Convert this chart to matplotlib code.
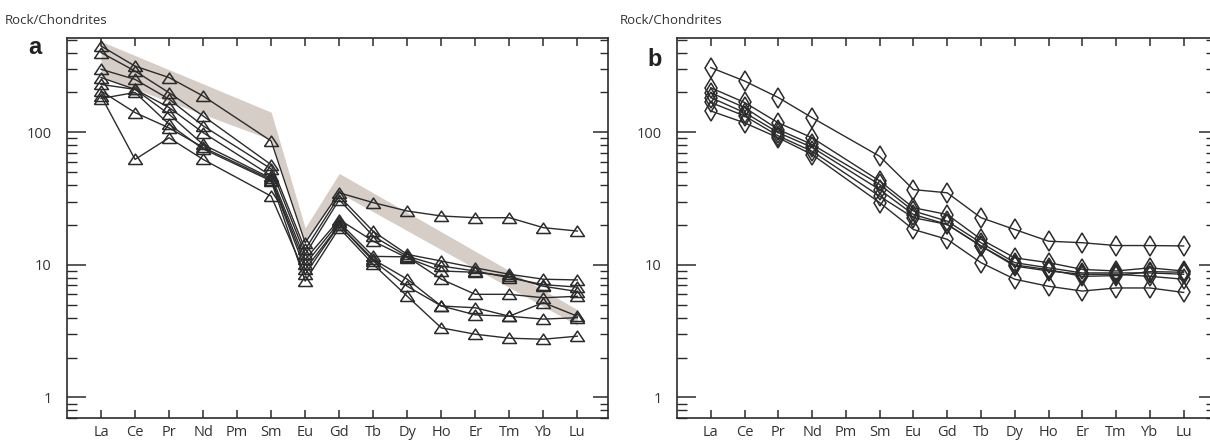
import matplotlib
matplotlib.use("Agg")
import matplotlib.pyplot as plt
import numpy as np
from matplotlib.ticker import FixedLocator, FixedFormatter, LogLocator, NullFormatter

plt.rcParams['font.family'] = ['Open Sans', 'DejaVu Sans']

# ---------------- data ----------------
ree = ['La', 'Ce', 'Pr', 'Nd', 'Pm', 'Sm', 'Eu', 'Gd', 'Tb', 'Dy', 'Ho', 'Er', 'Tm', 'Yb', 'Lu']

# panel a samples (None = Pm not analysed)
a_s1 = [448, 316, 259, 188, None, 86, 14.7, 35, 29.5, 25.5, 23.4, 22.7, 22.7, 19.1, 18.0]
a_s2 = [400, 290, 199, 133, None, 57, 13.1, 33, 17.9, 12.0, 10.7, 9.5, 8.5, 7.8, 7.7]
a_s3 = [299, 251, 178, 112, None, 53, 12.0, 31, 16.5, 11.6, 9.8, 9.0, 8.0, 7.1, 6.8]
a_s4 = [259, 211, 154, 99.5, None, 47, 11.0, 22, 15.1, 11.3, 9.0, 8.8, 8.2, 6.9, 6.3]
a_s5 = [230, 211, 137, 81, None, 45, 10.1, 21, 11.6, 11.5, 7.8, 6.0, 6.0, 5.65, 5.8]
a_s6 = [205, 141, 108, 77, None, 44, 9.25, 20, 11.0, 7.8, 4.9, 4.75, 4.1, 5.2, 4.1]
a_s7 = [188, 62.5, 91, 62.5, None, 33, 8.5, 20, 10.7, 6.9, 4.9, 4.2, 4.1, 3.9, 4.0]
a_s8 = [180, 200, 115, 75, None, 43, 7.55, 19, 10.1, 5.8, 3.35, 3.0, 2.8, 2.75, 2.9]
panel_a = [a_s1, a_s2, a_s3, a_s4, a_s5, a_s6, a_s7, a_s8]

# shaded reference field in panel a
band_ree = ['La', 'Sm', 'Eu', 'Gd', 'Lu']
band_upper = [486, 142, 19, 49, 4.6]
band_lower = [265, 88, 15, 35, 3.5]

# panel b samples
b_s1 = [308, 244, 183, 129, None, 66, 37, 35, 22.7, 18.5, 15.1, 14.7, 14.0, 14.0, 13.9]
b_s2 = [217, 168, 118, 91, None, 43, 27, 24, 15.6, 11.3, 10.4, 9.25, 9.0, 9.5, 9.0]
b_s3 = [199, 154, 105, 81, None, 40.5, 25.5, 21.4, 14.7, 10.4, 9.5, 8.7, 8.7, 8.7, 8.5]
b_s4 = [183, 141, 99.5, 77, None, 37, 24, 20.2, 13.9, 9.8, 9.0, 8.5, 8.5, 8.2, 7.8]
b_s5 = [168, 133, 94, 72, None, 33, 22.7, 20.2, 13.9, 10.0, 9.2, 8.2, 8.3, 8.9, 8.8]
b_s6 = [145, 118, 91, 68, None, 29.5, 18.5, 15.6, 10.4, 7.8, 6.9, 6.35, 6.7, 6.7, 6.2]
panel_b = [b_s1, b_s2, b_s3, b_s4, b_s5, b_s6]

y_major = [1, 10, 100]
y_major_labels = ['1', '10', '100']

# ---------------- figure ----------------
fig = plt.figure(figsize=(12.1, 4.41), dpi=100)
W, H = 1210, 441
ink = '#2b2b2b'
txt = '#333333'

def make_axes(left_px, right_px):
    ax = fig.add_axes([left_px / W, 23 / H, (right_px - left_px) / W, (418 - 38) / H])
    ax.set_yscale('log')
    ax.set_xlim(-1, 14.9)
    ax.set_ylim(0.7, 515)
    ax.set_xticks(range(len(ree)))
    ax.set_xticklabels(ree)
    ax.yaxis.set_major_locator(FixedLocator(y_major))
    ax.yaxis.set_major_formatter(FixedFormatter(y_major_labels))
    ax.yaxis.set_minor_locator(LogLocator(base=10, subs=np.arange(2, 10), numticks=20))
    ax.yaxis.set_minor_formatter(NullFormatter())
    for s in ax.spines.values():
        s.set_linewidth(1.2)
        s.set_color(ink)
    ax.tick_params(axis='x', which='major', direction='in', length=6, width=1.1,
                   top=True, bottom=True, pad=5, labelsize=10.5, colors=ink, labelcolor=txt)
    ax.tick_params(axis='x', which='minor', bottom=False, top=False)
    ax.tick_params(axis='y', which='major', direction='in', length=14, width=1.1,
                   left=True, right=False, pad=11, labelsize=10.5, colors=ink, labelcolor=txt)
    ax.tick_params(axis='y', which='minor', direction='in', length=7, width=1.0,
                   left=True, right=False, colors=ink)
    # right-hand ticks with their own lengths
    ax2 = ax.twinx()
    ax2.set_yscale('log')
    ax2.set_ylim(ax.get_ylim())
    ax2.yaxis.set_major_locator(FixedLocator(y_major))
    ax2.yaxis.set_minor_locator(LogLocator(base=10, subs=np.arange(2, 10), numticks=20))
    ax2.yaxis.set_major_formatter(NullFormatter())
    ax2.yaxis.set_minor_formatter(NullFormatter())
    ax2.tick_params(axis='y', which='major', direction='in', length=11, width=1.1, colors=ink)
    ax2.tick_params(axis='y', which='minor', direction='in', length=6, width=1.0, colors=ink)
    for s in ax2.spines.values():
        s.set_visible(False)
    return ax

def draw_series(ax, series, marker, ms):
    xs_all = np.arange(len(ree))
    for vals in series:
        xs = [x for x, v in zip(xs_all, vals) if v is not None]
        ys = [v for v in vals if v is not None]
        ax.plot(xs, ys, color=ink, lw=1.0, marker=marker, ms=ms,
                mfc='none', mec=ink, mew=1.1, zorder=3)

tri = [(-1, -0.72), (1, -0.72), (0, 0.78), (-1, -0.72)]

axa = make_axes(67, 608)
bx = [ree.index(r) for r in band_ree]
axa.fill_between(bx, band_lower, band_upper, color='#d5cdc6', lw=0, zorder=1)
draw_series(axa, panel_a, tri, 10)

axb = make_axes(677, 1214)
draw_series(axb, panel_b, 'd', 10.5)

fig.text(5 / W, 1 - 20 / H, 'Rock/Chondrites', fontsize=9.5, color=txt, ha='left', va='center')
fig.text(620 / W, 1 - 20 / H, 'Rock/Chondrites', fontsize=9.5, color=txt, ha='left', va='center')
fig.text(35 / W, 1 - 47 / H, 'a', fontsize=17, fontweight='bold', family='Liberation Sans',
         color='#222222', ha='center', va='center')
fig.text(655 / W, 1 - 60 / H, 'b', fontsize=17, fontweight='bold', family='Liberation Sans',
         color='#222222', ha='center', va='center')

fig.savefig('out.png', dpi=100)
